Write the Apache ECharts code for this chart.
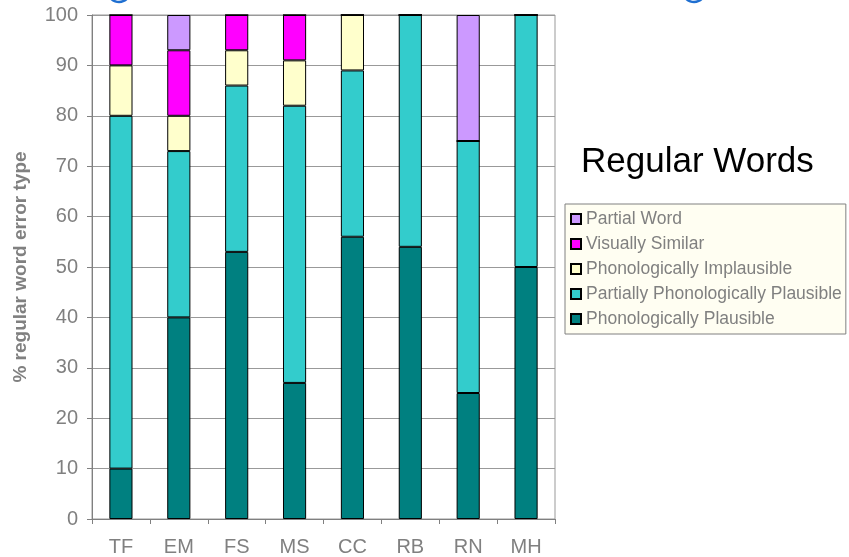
<!DOCTYPE html>
<html>
<head>
<meta charset="utf-8">
<style>
  html, body { margin: 0; padding: 0; background: #ffffff; }
  #chart { width: 849px; height: 557px; }
</style>
<script src="https://cdn.jsdelivr.net/npm/echarts@6/dist/echarts.min.js"></script>
</head>
<body>
<div id="chart"></div>
<script>
// Participants along the x axis
const participants = ['TF', 'EM', 'FS', 'MS', 'CC', 'RB', 'RN', 'MH'];

// Percentage of regular-word errors of each type, per participant
const phonologicallyPlausible        = [10, 40, 53, 27, 56, 54, 25, 50];
const partiallyPhonologicallyPlaus   = [70, 33, 33, 55, 33, 46, 50, 50];
const phonologicallyImplausible      = [10,  7,  7,  9, 11,  0,  0,  0];
const visuallySimilar                = [10, 13,  7,  9,  0,  0,  0,  0];
const partialWord                    = [ 0,  7,  0,  0,  0,  0, 25,  0];

const yTicks = [0, 10, 20, 30, 40, 50, 60, 70, 80, 90, 100];

const FONT = 'Liberation Sans, Arial, sans-serif';
const GREY = '#808080';

function layer(name, values, color) {
  return {
    name: name,
    type: 'bar',
    stack: 'errors',
    barWidth: '40%',
    data: values,
    itemStyle: { color: color, borderColor: '#000000', borderWidth: 1 }
  };
}

const chart = echarts.init(document.getElementById('chart'), null, { renderer: 'canvas' });

chart.setOption({
  animation: false,
  backgroundColor: '#ffffff',
  grid: {
    left: 92, right: 294, top: 15, bottom: 38,
    show: true, borderColor: '#999999', borderWidth: 1
  },
  title: {
    text: 'Regular Words',
    left: 576, top: 140,
    textStyle: { fontFamily: FONT, fontSize: 35, fontWeight: 'normal', color: '#000000' }
  },
  legend: {
    orient: 'vertical',
    left: 565, top: 204,
    data: ['Partial Word', 'Visually Similar', 'Phonologically Implausible',
           'Partially Phonologically Plausible', 'Phonologically Plausible'],
    icon: 'rect',
    itemWidth: 10, itemHeight: 10, itemGap: 5,
    padding: [5, 4, 5, 5],
    backgroundColor: '#FFFEF2',
    borderColor: GREY, borderWidth: 1, borderRadius: 0,
    textStyle: { fontFamily: FONT, fontSize: 17.5, color: GREY, lineHeight: 20 }
  },
  xAxis: {
    type: 'category',
    data: participants,
    axisLine: { lineStyle: { color: GREY, width: 1 } },
    axisTick: { show: true, length: 5, lineStyle: { color: GREY } },
    axisLabel: { fontFamily: FONT, fontSize: 20, color: GREY, margin: 18 }
  },
  yAxis: {
    type: 'value',
    min: yTicks[0], max: yTicks[yTicks.length - 1], interval: 10,
    name: '% regular word error type',
    nameLocation: 'middle', nameRotate: 90, nameGap: 62,
    nameTextStyle: { fontFamily: FONT, fontSize: 19, fontWeight: 'bold', color: GREY },
    axisLine: { show: true, lineStyle: { color: GREY, width: 1 } },
    axisTick: { show: true, length: 5, lineStyle: { color: GREY } },
    axisLabel: { fontFamily: FONT, fontSize: 20, color: GREY, margin: 14 },
    splitLine: { show: true, lineStyle: { color: '#999999', width: 1 } }
  },
  graphic: [
    { type: 'arc', shape: { cx: 119, cy: -9, r: 11, startAngle: 0.35, endAngle: Math.PI - 0.35 },
      style: { stroke: '#1f6fd1', lineWidth: 2.5, fill: null } },
    { type: 'arc', shape: { cx: 694, cy: -9, r: 11, startAngle: 0.35, endAngle: Math.PI - 0.35 },
      style: { stroke: '#1f6fd1', lineWidth: 2.5, fill: null } }
  ],
  series: [
    layer('Phonologically Plausible', phonologicallyPlausible, '#008080'),
    layer('Partially Phonologically Plausible', partiallyPhonologicallyPlaus, '#33CCCC'),
    layer('Phonologically Implausible', phonologicallyImplausible, '#FFFFCC'),
    layer('Visually Similar', visuallySimilar, '#FF00FF'),
    layer('Partial Word', partialWord, '#CC99FF')
  ]
});
</script>
</body>
</html>
